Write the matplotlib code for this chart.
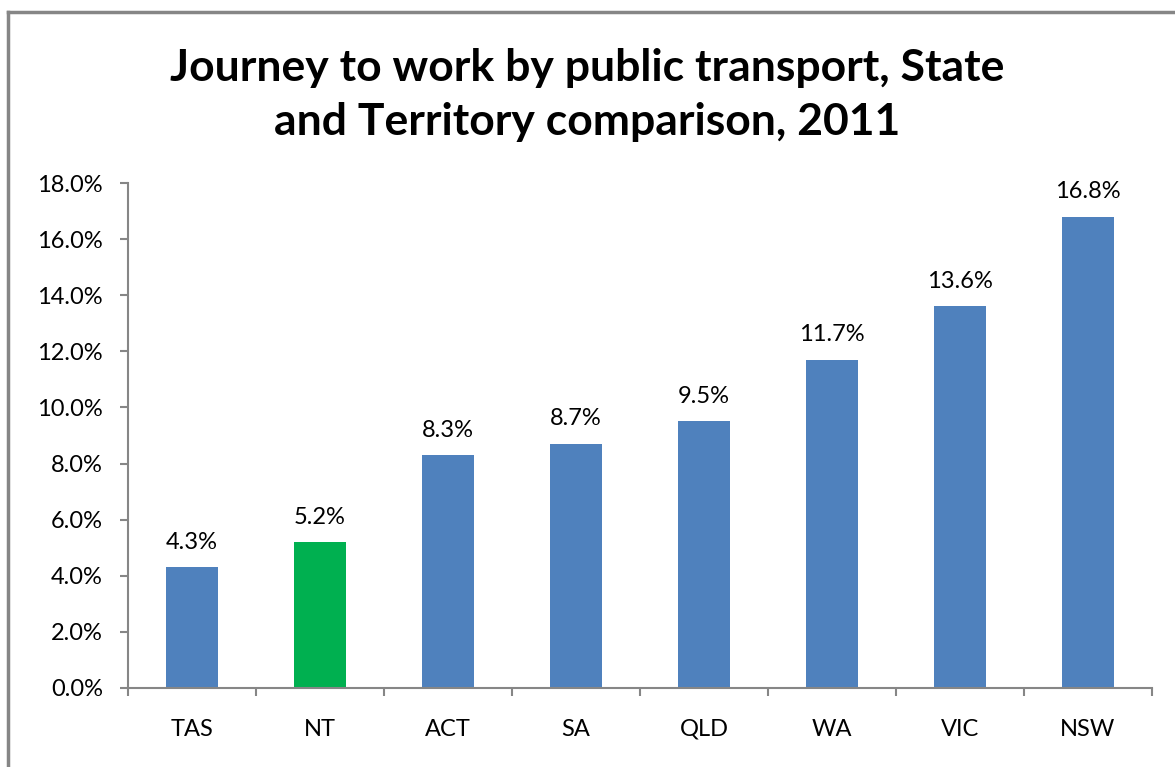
import matplotlib
matplotlib.use("Agg")
import matplotlib.pyplot as plt
from matplotlib.lines import Line2D
from matplotlib.ticker import FuncFormatter, MultipleLocator

# --- data ---
states = ["TAS", "NT", "ACT", "SA", "QLD", "WA", "VIC", "NSW"]
share_pct = [4.3, 5.2, 8.3, 8.7, 9.5, 11.7, 13.6, 16.8]
highlight = "NT"

plt.rcParams["font.family"] = ["Lato", "DejaVu Sans"]

fig = plt.figure(figsize=(11.75, 7.67), dpi=100)
ax = fig.add_axes([128 / 1175, 79 / 767, 1024 / 1175, 505 / 767])

blue = "#4F81BD"
green = "#00B050"
colors = [green if s == highlight else blue for s in states]

x = range(len(states))
ax.bar(x, share_pct, width=0.4, color=colors, zorder=2)

for xi, v in zip(x, share_pct):
    ax.annotate(f"{v:.1f}%", (xi, v), xytext=(0, 10.5), textcoords="offset points",
                ha="center", va="bottom", fontsize=17)

ax.set_xlim(-0.5, len(states) - 0.5)
ax.set_ylim(0, 18)
ax.yaxis.set_major_locator(MultipleLocator(2))
ax.yaxis.set_major_formatter(FuncFormatter(lambda v, _: f"{v:.1f}%"))

# category boundary ticks on x axis, labels centred between them
ax.set_xticks([i - 0.5 for i in range(len(states) + 1)])
ax.set_xticklabels([])
ax.set_xticks(list(x), minor=True)
ax.set_xticklabels(states, minor=True, fontsize=17)
ax.tick_params(axis="x", which="major", length=6, width=1.5, color="#868686", direction="out")
ax.tick_params(axis="x", which="minor", length=0, pad=22)
ax.tick_params(axis="y", length=6, width=1.5, color="#868686", labelsize=17, pad=12)

for side in ["top", "right"]:
    ax.spines[side].set_visible(False)
for side in ["left", "bottom"]:
    ax.spines[side].set_color("#868686")
    ax.spines[side].set_linewidth(1.5)

fig.text(0.5, 0.876, "Journey to work by public transport, State\nand Territory comparison, 2011",
         ha="center", va="center", fontsize=32, fontweight="bold", linespacing=1.42)

# outer chart frame (cut off on the right and bottom in the reference)
fig.add_artist(Line2D([8 / 1175, 1.0], [1 - 12 / 767, 1 - 12 / 767],
                      transform=fig.transFigure, color="#868686", lw=2.5))
fig.add_artist(Line2D([8 / 1175, 8 / 1175], [0, 1 - 12 / 767],
                      transform=fig.transFigure, color="#868686", lw=2.5))

fig.savefig("out.png", dpi=100)
